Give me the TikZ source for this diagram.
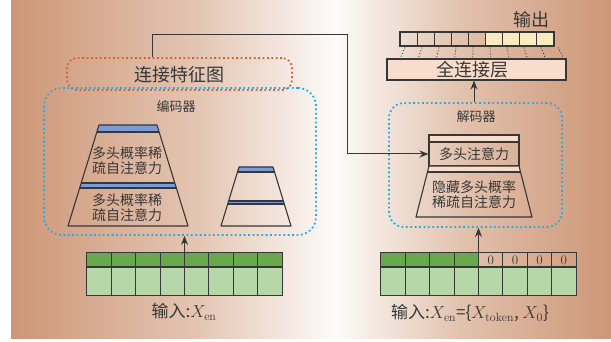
\documentclass[tikz,border=0pt]{standalone}
\usepackage{fontspec}
\newfontfamily\cjk{Noto Sans CJK SC}
\usetikzlibrary{arrows.meta,calc}
\definecolor{bgb}{RGB}{205,150,118}
\definecolor{bgm}{RGB}{228,198,180}
\definecolor{bgw}{RGB}{253,251,249}
\definecolor{bgr}{RGB}{226,194,174}
\definecolor{dkgreen}{RGB}{106,168,79}
\definecolor{ltgreen}{RGB}{182,215,168}
\definecolor{barblue}{RGB}{122,155,214}
\definecolor{pinkfill}{RGB}{248,220,204}
\definecolor{outyel}{RGB}{250,234,192}
\definecolor{dotblue}{RGB}{41,171,226}
\definecolor{dotorange}{RGB}{210,100,50}
\definecolor{ink}{RGB}{55,55,55}
\tikzset{
  ln/.style={draw=ink, line width=1.1pt},
  arr/.style={ink, line width=1pt, -{Stealth[length=9pt,width=7pt]}},
  dotbox/.style={draw=dotblue, line width=1.8pt, dash pattern=on 1.8pt off 2.6pt, rounded corners=18pt, inner sep=0pt},
  obox/.style={draw=dotorange, line width=1.8pt, dash pattern=on 1.8pt off 2.6pt, rounded corners=10pt, inner sep=0pt},
  txt/.style={text=ink, inner sep=0pt, font=\cjk\fontsize{14}{15}\selectfont, align=center},
  bigtxt/.style={text=ink, inner sep=0pt, font=\cjk\fontsize{17}{19}\selectfont},
  smtxt/.style={text=ink, inner sep=0pt, font=\cjk\fontsize{13}{15}\selectfont},
  fan/.style={draw=ink, line width=0.8pt, dash pattern=on 1pt off 2pt},
}
\begin{document}
\begin{tikzpicture}[x=1pt,y=-1pt]
\useasboundingbox (0,0) rectangle (611,342);
% background
\shade[left color=bgb, right color=bgm] (11,0) rectangle (200,338);
\shade[left color=bgm, right color=bgw] (199.5,0) rectangle (336,338);
\shade[left color=bgw, right color=bgr] (335.5,0) rectangle (460,338);
\shade[left color=bgr, right color=bgb] (459.5,0) rectangle (611,338);

% concat feature map box
\node[obox, minimum width=225pt, minimum height=32pt] (ofeat) at (179.5,74) {};
\node[bigtxt, font=\cjk\fontsize{18}{20}\selectfont] (ofeattxt) at (179,75) {连接特征图};
% encoder box
\node[dotbox, minimum width=272pt, minimum height=147pt] (enc) at (180,161.5) {};
\node[smtxt] (enclab) at (176,107) {编码器};

% big trapezoid
\fill[barblue] (99,125) -- (157,125) -- (159.15,132) -- (96.85,132) -- cycle;
\fill[barblue] (81.2,183) -- (174.8,183) -- (176.34,188) -- (79.66,188) -- cycle;
\draw[ln, line join=round] (99,125) -- (157,125) -- (188,226) -- (68,226) -- cycle;
\draw[ln] (96.85,132) -- (159.15,132);
\draw[ln] (81.2,183) -- (174.8,183);
\draw[ln] (79.66,188) -- (176.34,188);
\node[txt] (t1) at (127,161) {多头概率稀\\疏自注意力};
\node[txt] (t2) at (127,208) {多头概率稀\\疏自注意力};

% small trapezoid
\fill[barblue] (239,167) -- (273,167) -- (274.53,172) -- (237.47,172) -- cycle;
\fill[barblue] (228.63,201) -- (283.37,201) -- (284.29,204) -- (227.71,204) -- cycle;
\draw[ln, line join=round] (239,167) -- (273,167) -- (291,226) -- (221,226) -- cycle;
\draw[ln] (237.47,172) -- (274.53,172);
\draw[ln] (228.63,201) -- (283.37,201);
\draw[ln] (227.71,204) -- (284.29,204);

% left input grid
\node[inner sep=0pt, minimum width=195pt, minimum height=42pt] (lgrid) at (184.5,274) {};
\fill[dkgreen] (lgrid.north west) rectangle (282,267);
\fill[ltgreen] (87,267) rectangle (lgrid.south east);
\foreach \i in {1,...,7} {\draw[ln] ({87+\i*24.375},253) -- ({87+\i*24.375},295);}
\draw[ln] (87,267) -- (282,267);
\draw[ln] (lgrid.north west) rectangle (lgrid.south east);
\node[bigtxt] (llab) at (184,312) {输入:$X_{\mathrm{en}}$};
\draw[arr] (lgrid.north) -- (lgrid.north |- enc.south);

% decoder box
\node[dotbox, rounded corners=15pt, minimum width=173pt, minimum height=124pt] (dec) at (475.5,165) {};
\node[smtxt] (declab) at (476,117) {解码器};
\fill[pinkfill] (429,135) rectangle (519,142);
\draw[ln] (429,135) rectangle (519,142);
\node[ln, inner sep=0pt, minimum width=90pt, minimum height=24pt, txt] (mha) at (474,154) {多头注意力};
\fill[pinkfill] (429,166) -- (519,166) -- (520.53,172) -- (427.47,172) -- cycle;
\draw[ln, line join=round] (429,166) -- (519,166) -- (532,217) -- (416,217) -- cycle;
\draw[ln] (427.47,172) -- (520.53,172);
\node[txt, text width=100pt, align=center] (hid) at (474,194.5) {隐藏多头概率\\稀疏自注意力};

% right input grid
\node[inner sep=0pt, minimum width=195pt, minimum height=42pt] (rgrid) at (478.5,274) {};
\fill[dkgreen] (rgrid.north west) rectangle (478.5,267);
\fill[ltgreen] (381,267) rectangle (rgrid.south east);
\foreach \i in {1,...,7} {\draw[ln] ({381+\i*24.375},253) -- ({381+\i*24.375},295);}
\draw[ln] (381,267) -- (576,267);
\draw[ln] (rgrid.north west) rectangle (rgrid.south east);
\foreach \i in {4,...,7} {\node[text=ink, inner sep=0pt, font=\fontsize{13}{14}\selectfont] (z\i) at ({381+(\i+0.5)*24.375},260) {0};}
\node[bigtxt] (rlab) at (470,313) {输入:$X_{\mathrm{en}}$=\{$X_{\mathrm{token}}$, $X_0$\}};
\draw[arr] (rgrid.north) -- (rgrid.north |- dec.south);

% fully connected layer
\node[ln, fill=pinkfill, inner sep=0pt, minimum width=179pt, minimum height=21pt] (fc) at (476.5,69.5) {};
\node[bigtxt, font=\cjk\fontsize{18}{20}\selectfont] (fctxt) at (472,70) {全连接层};
\draw[arr] (dec.north -| 474,0) -- (fc.south -| 474,0);

% output cells
\fill[outyel] (485.5,32) rectangle (554,46);
\foreach \i in {1,...,8} {\draw[ln] ({400+\i*17.111},32) -- ({400+\i*17.111},46);}
\node[ln, inner sep=0pt, minimum width=154pt, minimum height=14pt] (outc) at (477,39) {};
\node[bigtxt, font=\cjk\fontsize{18}{20}\selectfont] (outlab) at (531,20) {输出};
\foreach \i in {0,...,9} {\draw[fan] ({405+\i*17},47.5) -- ({477+(405+\i*17-477)*1.07},58.5);}

% connection line
\coordinate (turnA) at (152,35);
\coordinate (turnB) at (347,35);
\draw[arr] ([xshift=-27.5pt]ofeat.north) -- (turnA) -- (turnB) |- (mha.west);
\end{tikzpicture}
\end{document}
